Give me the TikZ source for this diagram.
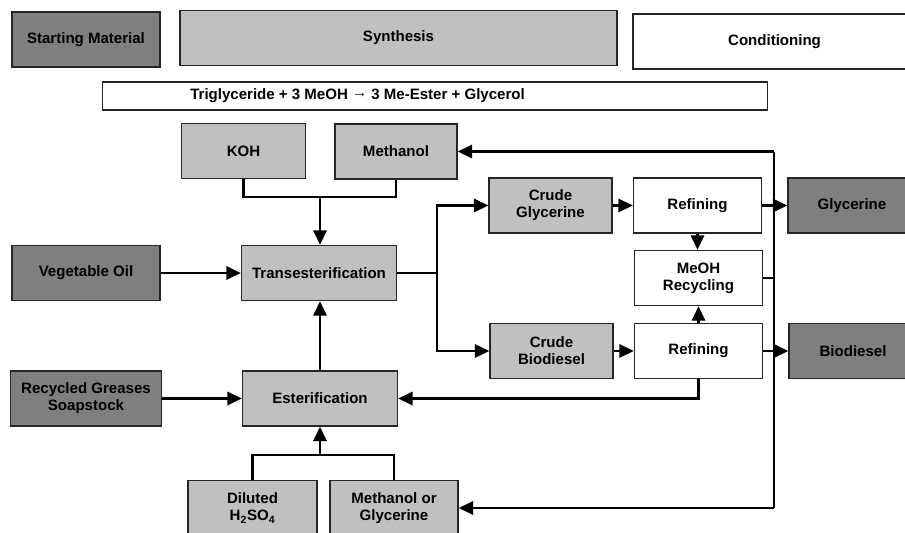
\documentclass[tikz,border=0pt]{standalone}
\usepackage{fontspec}
\setmainfont{Liberation Sans}
\usepackage{tikz}
\usetikzlibrary{positioning, arrows.meta, calc}
\definecolor{feedGray}{HTML}{7F7F7F}
\definecolor{procGray}{HTML}{C0C0C0}
\definecolor{edgeGray}{HTML}{262626}
\tikzset{
  box/.style={rectangle, draw=edgeGray, line width=1pt, align=center,
    inner sep=0pt, font=\fontsize{10.7}{12}\selectfont\bfseries},
  bsize/.style 2 args={minimum width=#1*0.025cm, minimum height=#2*0.025cm},
  feedbox/.style={box, fill=feedGray},
  procbox/.style={box, fill=procGray},
  cleanbox/.style={box, fill=white},
  arrowline/.style={-{Triangle[length=3.6mm, width=3.3mm]}, line width=1.8pt, black},
  plainline/.style={line width=1.8pt, black},
}

\begin{document}
\begin{tikzpicture}[x=0.025cm, y=-0.025cm]
    \useasboundingbox (0,0) rectangle (905,532);
    % column headers
    \node[feedbox, bsize={148}{55}] (startbox) at (86,39.5) {Starting Material};
    \node[procbox, bsize={437}{55}] (synthbox) at (398.5,38) {Synthesis};
    \node[cleanbox, bsize={283}{55}] (condbox) at (774.5,41.5) {Conditioning};
    % reaction line
    \node[cleanbox, bsize={665}{28}] (reacbox) at (435,96) {};
    \node[font=\fontsize{10.7}{12}\selectfont\bfseries, anchor=west, inner sep=0pt]
      (reactext) at (190,96) {Triglyceride + 3 MeOH \raisebox{0.25ex}{→} 3 Me-Ester + Glycerol};
    % inputs
    \node[procbox, bsize={124}{55}] (koh) at (243.5,151) {KOH};
    \node[procbox, bsize={122}{55}] (meth) at (396,151.5) {Methanol};
    \node[feedbox, bsize={148}{55}] (vegoil) at (86,273) {Vegetable Oil};
    \node[feedbox, bsize={151}{55}] (recgrease) at (86,398.5) {Recycled Greases\\Soapstock};
    \node[procbox, bsize={129}{55}] (h2so4) at (252.5,508) {Diluted\\H\textsubscript{2}SO\textsubscript{4}};
    \node[procbox, bsize={128}{55}] (methgly) at (394,508) {Methanol or\\Glycerine};
    % reactions
    \node[procbox, bsize={155}{55}] (trans) at (319,273) {Transesterification};
    \node[procbox, bsize={155}{55}] (ester) at (320,398.5) {Esterification};
    % crude products and refining
    \node[procbox, bsize={123}{55}] (crudegly) at (550.5,205.5) {Crude\\Glycerine};
    \node[procbox, bsize={123}{55}] (crudebio) at (551.5,351) {Crude\\Biodiesel};
    \node[cleanbox, bsize={128}{55}] (refgly) at (697.5,205.5) {Refining};
    \node[cleanbox, bsize={128}{55}] (meohrec) at (698.5,278) {MeOH\\Recycling};
    \node[cleanbox, bsize={128}{55}] (refbio) at (698.5,351) {Refining};
    % end products
    \node[feedbox, bsize={128}{55}] (glycerine) at (852,205.5) {Glycerine};
    \node[feedbox, bsize={128}{55}] (biodiesel) at (853,351) {Biodiesel};
    % junction points
    \coordinate (joinA) at (320,197);
    \coordinate (joinB) at (320,455);
    \coordinate (split) at (437,273);
    \coordinate (rail) at (774,0);
    % feeds into transesterification
    \draw[plainline] (koh.south) |- (joinA) -| (meth.south);
    \draw[arrowline] (joinA) -- (joinA |- trans.north);
    \draw[arrowline] (vegoil) -- (trans);
    \draw[arrowline] (ester.north) -- (ester.north |- trans.south);
    % feeds into esterification
    \draw[arrowline] (recgrease) -- (ester);
    \draw[plainline] (h2so4.north) |- (joinB) -| (methgly.north);
    \draw[arrowline] (joinB) -- (joinB |- ester.south);
    % phase split
    \draw[plainline] (trans.east) -- (split);
    \draw[arrowline] (split) |- (crudegly.west);
    \draw[arrowline] (split) |- (crudebio.west);
    \draw[arrowline] (crudegly) -- (refgly);
    \draw[arrowline] (crudebio) -- (refbio);
    \draw[arrowline] (refgly.south) -- (refgly.south |- meohrec.north);
    \draw[arrowline] (refbio.north) -- (refbio.north |- meohrec.south);
    \draw[arrowline] (refgly) -- (glycerine);
    \draw[arrowline] (refbio) -- (biodiesel);
    % methanol return
    \draw[plainline] (meth.east -| rail) -- (methgly.east -| rail);
    \draw[plainline] (meohrec.east) -- (meohrec.east -| rail);
    \draw[arrowline] (meth.east -| rail) -- (meth.east);
    \draw[arrowline] (methgly.east -| rail) -- (methgly.east);
    \draw[arrowline] (refbio.south) |- (ester.east);
\end{tikzpicture}
\end{document}
